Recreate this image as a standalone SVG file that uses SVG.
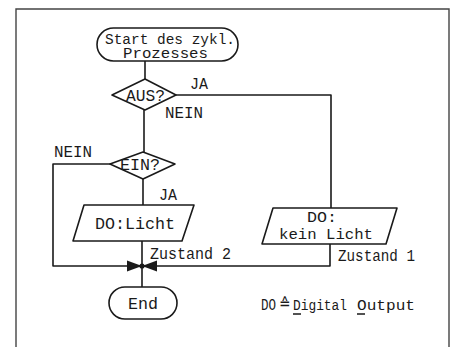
<svg xmlns="http://www.w3.org/2000/svg" width="456" height="347" viewBox="0 0 456 347">
<style>
.s{fill:none;stroke:#1a1a1a;stroke-width:1.6;stroke-linejoin:round}
.t{font-family:"Liberation Mono","DejaVu Sans Mono",monospace;font-size:16.5px;fill:#1a1a1a}
.m{font-size:14.5px}
.a{fill:#1a1a1a}
</style>
<rect width="456" height="347" fill="#fff"/>
<path d="M16,347 V9 H449 V347" fill="none" stroke="#444" stroke-width="1.4"/>
<g id="connectors">
<path class="s" d="M145,61 V79"/>
<path class="s" d="M176,95 H331 V208"/>
<path class="s" d="M144,110 V152"/>
<path class="s" d="M110,164 H53 V266 H142"/>
<path class="s" d="M143,179 V205"/>
<path class="s" d="M142,241 V287"/>
<path class="s" d="M330,244 V266 H142"/>
<polygon class="a" points="127,260.5 142,266 127,271.5"/>
<polygon class="a" points="157,260.5 142,266 157,271.5"/>
<circle class="a" cx="142" cy="266" r="2.6"/>
<text class="t" x="190" y="89" textLength="18" lengthAdjust="spacingAndGlyphs">JA</text>
<text class="t" x="165" y="118" textLength="38" lengthAdjust="spacingAndGlyphs">NEIN</text>
<text class="t" x="54" y="157" textLength="38" lengthAdjust="spacingAndGlyphs">NEIN</text>
<text class="t" x="159" y="200" textLength="18" lengthAdjust="spacingAndGlyphs">JA</text>
<text class="t" x="150" y="259" textLength="81" lengthAdjust="spacingAndGlyphs">Zustand 2</text>
<text class="t" x="338" y="261" textLength="77" lengthAdjust="spacingAndGlyphs">Zustand 1</text>
</g>
<g id="start">
<rect class="s" x="97" y="28" width="141" height="33" rx="16.5"/>
<text class="t m" x="105" y="43.5" textLength="130" lengthAdjust="spacingAndGlyphs">Start des zykl.</text>
<text class="t m" x="123" y="58" textLength="85" lengthAdjust="spacingAndGlyphs">Prozesses</text>
</g>
<g id="aus">
<polygon class="s" points="112,95 145,79 176,95 145,110"/>
<text class="t" x="126" y="101" textLength="39" lengthAdjust="spacingAndGlyphs">AUS?</text>
</g>
<g id="ein">
<polygon class="s" points="110,164 143,152 175,164 143,179"/>
<text class="t" x="120" y="170" textLength="40" lengthAdjust="spacingAndGlyphs">EIN?</text>
</g>
<g id="licht">
<polygon class="s" points="84,205 194,205 182,241 73,241"/>
<text class="t" x="95" y="229" textLength="80" lengthAdjust="spacingAndGlyphs">DO:Licht</text>
</g>
<g id="keinlicht">
<polygon class="s" points="273,208 397,208 386,244 262,244"/>
<text class="t m" x="307" y="221.5" textLength="30" lengthAdjust="spacingAndGlyphs">DO:</text>
<text class="t m" x="279" y="239" textLength="94" lengthAdjust="spacingAndGlyphs">kein Licht</text>
</g>
<g id="end">
<rect class="s" x="109" y="287" width="68" height="32" rx="16"/>
<text class="t" x="128" y="309" textLength="30" lengthAdjust="spacingAndGlyphs">End</text>
</g>
<g id="legend">
<text class="t" x="261" y="310" textLength="15" lengthAdjust="spacingAndGlyphs">DO</text>
<text class="t" x="280" y="309" font-size="13">≙</text>
<text class="t m" x="293" y="310" textLength="54" lengthAdjust="spacingAndGlyphs">Digital</text>
<text class="t m" x="357" y="310" textLength="58" lengthAdjust="spacingAndGlyphs">Output</text>
<path class="s" d="M293,314 H301 M357,314 H365" stroke-width="1.2"/>
</g>
</svg>
